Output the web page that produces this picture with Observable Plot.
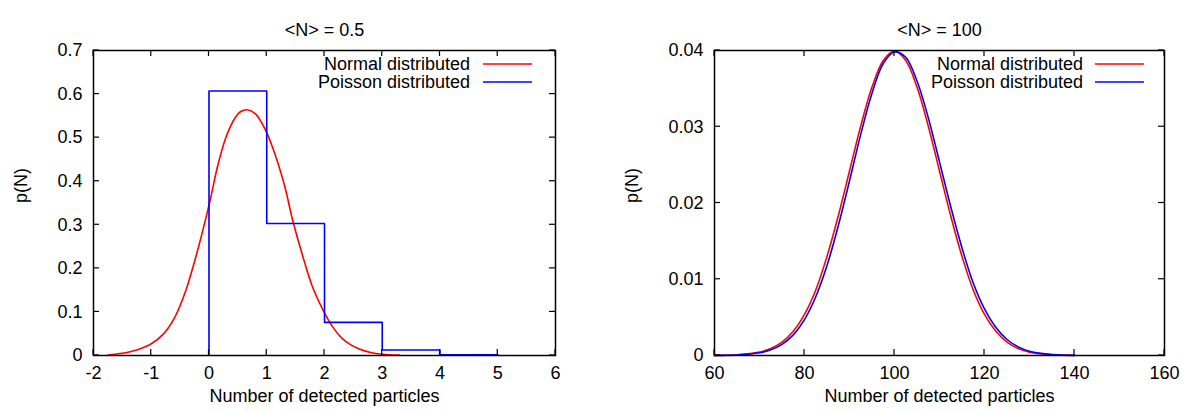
<!DOCTYPE html>
<html><head><meta charset="utf-8">
<script src="https://cdn.jsdelivr.net/npm/d3@7"></script>
<script src="https://cdn.jsdelivr.net/npm/@observablehq/plot@0.6"></script>
<style>
body{margin:0;background:#fff;}
#wrap{position:relative;width:1189px;height:412px;overflow:hidden;}
#left{position:absolute;left:0;top:0}
#right{position:absolute;left:595px;top:0}
</style></head><body><div id="wrap"><div id="left"></div><div id="right"></div></div>
<script>
// ---------- text ----------
const leftTitle = "<N> = 0.5";
const rightTitle = "<N> = 100";
const xLabel = "Number of detected particles";
const yLabel = "p(N)";
const seriesNames = ["Normal distributed", "Poisson distributed"];
const seriesColors = ["#ff0000", "#0000ff"];

// ---------- left panel data ----------
const leftXTicks = [-2, -1, 0, 1, 2, 3, 4, 5, 6];
const leftYTicks = [0, 0.1, 0.2, 0.3, 0.4, 0.5, 0.6, 0.7];
const leftNormalX = [-1.75, -1.5, -1.35, -1.2, -1.0, -0.8, -0.6, -0.4, -0.2, 0, 0.15, 0.3, 0.45, 0.55, 0.66, 0.8, 0.95, 1.1, 1.3, 1.45, 1.65, 1.8, 2.0, 2.15, 2.3, 2.45, 2.6, 2.8, 3.0, 3.3];
const leftNormalY = [0.001, 0.005, 0.009, 0.015, 0.027, 0.048, 0.086, 0.150, 0.240, 0.345, 0.435, 0.503, 0.545, 0.560, 0.564, 0.555, 0.525, 0.478, 0.394, 0.310, 0.216, 0.155, 0.098, 0.064, 0.040, 0.025, 0.015, 0.007, 0.003, 0.0008];
const leftPoissonK = [0, 1, 2, 3, 4];
const leftPoissonP = [0.607, 0.303, 0.076, 0.0126, 0.0016];
const leftPoissonEnd = 5;

// ---------- right panel data ----------
const rightXTicks = [60, 80, 100, 120, 140, 160];
const rightYTicks = [0, 0.01, 0.02, 0.03, 0.04];
const rightX = [60, 65, 70, 72.5, 75, 77.5, 80, 82.5, 85, 87.5, 90, 92.5, 95, 97.5, 100, 102.5, 105, 107.5, 110, 112.5, 115, 117.5, 120, 122.5, 125, 127.5, 130, 135, 140];
const rightNormalY = [0.00001, 0.00009, 0.00044, 0.00091, 0.00175, 0.00318, 0.0054, 0.0086, 0.0130, 0.0183, 0.0242, 0.0301, 0.0352, 0.0387, 0.0399, 0.0387, 0.0352, 0.0301, 0.0242, 0.0183, 0.0130, 0.0086, 0.0054, 0.0032, 0.00175, 0.00091, 0.00044, 0.00009, 0.00001];
const rightPoissonY = [0.00001, 0.00007, 0.00035, 0.00074, 0.00146, 0.0027, 0.0047, 0.0077, 0.0118, 0.0170, 0.0229, 0.0290, 0.0344, 0.0383, 0.0398, 0.0391, 0.0360, 0.0312, 0.0254, 0.0195, 0.0141, 0.0095, 0.0061, 0.0037, 0.0021, 0.00113, 0.00057, 0.00013, 0.00002];

const FONT = "'Liberation Sans', Arial, Helvetica, sans-serif";
const FS = 18;

function frameTicks(xt, yt, len) {
  return (index, scales, values, dims) => {
    const {width, height, marginLeft, marginRight, marginTop, marginBottom} = dims;
    const x0 = marginLeft, x1 = width - marginRight, y0 = marginTop, y1 = height - marginBottom;
    const g = d3.create("svg:g").attr("stroke", "black").attr("stroke-width", 1.2);
    for (const t of xt) {
      const px = scales.x(t);
      g.append("line").attr("x1", px).attr("x2", px).attr("y1", y1).attr("y2", y1 - len);
      g.append("line").attr("x1", px).attr("x2", px).attr("y1", y0).attr("y2", y0 + len);
    }
    for (const t of yt) {
      const py = scales.y(t);
      g.append("line").attr("y1", py).attr("y2", py).attr("x1", x0).attr("x2", x0 + len);
      g.append("line").attr("y1", py).attr("y2", py).attr("x1", x1).attr("x2", x1 - len);
    }
    return g.node();
  };
}

function legend(textRight, lineStart, lineEnd, rowY) {
  return (index, scales, values, dims) => {
    const {width, marginRight, marginTop} = dims;
    const xr = width - marginRight;
    const g = d3.create("svg:g");
    seriesNames.forEach((name, i) => {
      const y = marginTop + rowY[i];
      g.append("text").attr("x", xr + textRight).attr("y", y).attr("dy", "0.35em")
        .attr("text-anchor", "end").attr("font-family", FONT).attr("font-size", FS).attr("fill", "black").text(name);
      g.append("line").attr("x1", xr + lineStart).attr("x2", xr + lineEnd).attr("y1", y).attr("y2", y)
        .attr("stroke", seriesColors[i]).attr("stroke-width", 1.5);
    });
    return g.node();
  };
}

function panel({width, marginLeft, marginRight, xDomain, yDomain, xTicks, yTicks, title, yLabelOffset, normal, poisson, poissonCurve, legendPos}) {
  return Plot.plot({
    width, height: 412,
    marginLeft, marginRight, marginTop: 50, marginBottom: 57,
    x: {domain: xDomain}, y: {domain: yDomain},
    style: {fontFamily: FONT, fontSize: FS + "px", background: "white", color: "black"},
    marks: [
      Plot.axisX({ticks: xTicks, tickSize: 0, tickPadding: 11, tickFormat: d => String(d), fontSize: FS, label: null}),
      Plot.axisY({ticks: yTicks, tickSize: 0, tickPadding: 11, tickFormat: d => String(d), fontSize: FS, label: null}),
      Plot.line(normal, {x: "x", y: "y", curve: "catmull-rom", stroke: seriesColors[0], strokeWidth: 1.6}),
      Plot.line(poisson, {x: "x", y: "y", curve: poissonCurve, stroke: seriesColors[1], strokeWidth: 1.6}),
      Plot.frame({stroke: "black", strokeWidth: 1.5}),
      frameTicks(xTicks, yTicks, 6),
      Plot.text([title], {text: d => d, frameAnchor: "top", dy: -27, fontSize: FS}),
      Plot.text([xLabel], {text: d => d, frameAnchor: "bottom", dy: 46, fontSize: FS}),
      Plot.text([yLabel], {text: d => d, frameAnchor: "left", dx: -yLabelOffset, rotate: -90, fontSize: FS}),
      legend(...legendPos)
    ]
  });
}

// build tables
const leftNormal = leftNormalX.map((x, i) => ({x, y: leftNormalY[i]}));
const leftPoisson = [{x: leftPoissonK[0], y: 0}]
  .concat(leftPoissonK.map((k, i) => ({x: k, y: leftPoissonP[i]})))
  .concat([{x: leftPoissonEnd, y: leftPoissonP[leftPoissonP.length - 1]}]);
const rightNormal = rightX.map((x, i) => ({x, y: rightNormalY[i]}));
const rightPoisson = rightX.map((x, i) => ({x, y: rightPoissonY[i]}));

document.getElementById("left").append(panel({
  width: 595, marginLeft: 93, marginRight: 40,
  xDomain: [-2, 6], yDomain: [0, 0.7], xTicks: leftXTicks, yTicks: leftYTicks,
  title: leftTitle, yLabelOffset: 72,
  normal: leftNormal, poisson: leftPoisson, poissonCurve: "step-after",
  legendPos: [-85, -72, -23, [14, 32]]
}));
document.getElementById("right").append(panel({
  width: 594, marginLeft: 119, marginRight: 25,
  xDomain: [60, 160], yDomain: [0, 0.04], xTicks: rightXTicks, yTicks: rightYTicks,
  title: rightTitle, yLabelOffset: 82,
  normal: rightNormal, poisson: rightPoisson, poissonCurve: "catmull-rom",
  legendPos: [-81, -69, -20, [14, 32]]
}));
</script>
</body></html>
